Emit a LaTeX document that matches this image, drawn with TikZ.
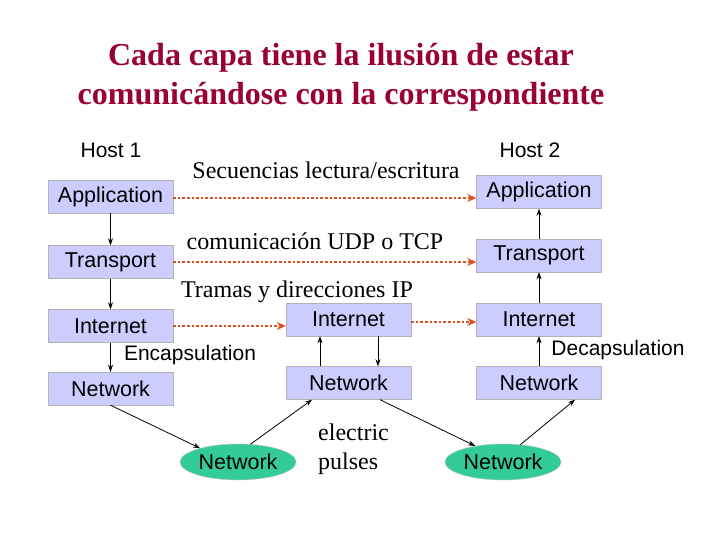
\documentclass[tikz,border=0pt]{standalone}
\usepackage{fontspec}
\setmainfont{Liberation Serif}
\newfontfamily\boxfont{Liberation Sans}
\usetikzlibrary{arrows.meta,shapes.geometric}
\definecolor{boxfill}{HTML}{CCCCFF}
\definecolor{ellfill}{HTML}{33CC99}
\definecolor{titlered}{HTML}{990033}
\definecolor{dotor}{HTML}{E05020}
\begin{document}
\begin{tikzpicture}[x=1pt,y=-1pt,
 lay/.style={draw=gray!60,fill=boxfill,minimum width=125pt,minimum height=33pt,inner sep=0pt,font=\boxfont\fontsize{21.5}{21.5}\selectfont},
 ell/.style={ellipse,draw=gray!50,fill=ellfill,minimum width=116pt,minimum height=36pt,inner sep=0pt,font=\boxfont\fontsize{21.5}{21.5}\selectfont},
 lbl/.style={font=\fontsize{24}{29}\selectfont,inner sep=0pt},
 slbl/.style={font=\boxfont\fontsize{21}{21}\selectfont,inner sep=0pt},
 arr/.style={-{Stealth[length=7pt,width=5pt]},line width=0.8pt},
 dot/.style={-{Stealth[length=9pt,width=8pt]},dotted,line width=2.6pt,draw=dotor,color=dotor}]
\useasboundingbox (0,0) rectangle (720,540);
\node[font=\bfseries\fontsize{32}{39}\selectfont,text=titlered,align=center] (title) at (341,77) {Cada capa tiene la ilusión de estar\\comunicándose con la correspondiente};
\node[slbl] (h1) at (111,150) {Host 1};
\node[slbl] (h2) at (530,150) {Host 2};
\node[lay] (a1) at (110.5,196.5) {Application};
\node[lay] (t1) at (110.5,262) {Transport};
\node[lay] (i1) at (110.5,326) {Internet};
\node[lay] (n1) at (110.5,388.5) {Network};
\node[lay] (a2) at (539,192) {Application};
\node[lay] (t2) at (539,255.5) {Transport};
\node[lay] (i2) at (539,319.5) {Internet};
\node[lay] (n2) at (539,383) {Network};
\node[lay] (im) at (348.5,319.5) {Internet};
\node[lay] (nm) at (348.5,383) {Network};
\node[ell] (e1) at (238,462) {Network};
\node[ell] (e2) at (503,462) {Network};
\node[lbl] (s1) at (326,170) {Secuencias lectura/escritura};
\node[lbl] (s2) at (315,241) {comunicación UDP o TCP};
\node[lbl] (s3) at (297,292) {Tramas y direcciones IP};
\node[slbl] (enc) at (190,355) {Encapsulation};
\node[slbl] (dec) at (618,350) {Decapsulation};
\node[lbl,align=left,anchor=north west] (ep) at (318,424) {electric\\pulses};
\draw[dot] (a1.east |- 0,198) -- (a2.west |- 0,198);
\draw[dot] (t1.east |- 0,262) -- (t2.west |- 0,262);
\draw[dot] (i1.east |- 0,326) -- (im.west |- 0,326);
\draw[dot] (im.east |- 0,322) -- (i2.west |- 0,322);
\draw[arr] (a1) -- (t1);
\draw[arr] (t1) -- (i1);
\draw[arr] (i1) -- (n1);
\draw[arr] (n2) -- (i2);
\draw[arr] (i2) -- (t2);
\draw[arr] (t2) -- (a2);
\draw[arr] (nm.north -| 320,0) -- (im.south -| 320,0);
\draw[arr] (im.south -| 378,0) -- (nm.north -| 378,0);
\draw[arr] (n1.south) -- (e1.160);
\draw[arr] (e1.55) -- (nm.south -| 312,0);
\draw[arr] (nm.south -| 380,0) -- (e2.150);
\draw[arr] (e2.45) -- (n2.south -| 575,0);
\end{tikzpicture}
\end{document}
